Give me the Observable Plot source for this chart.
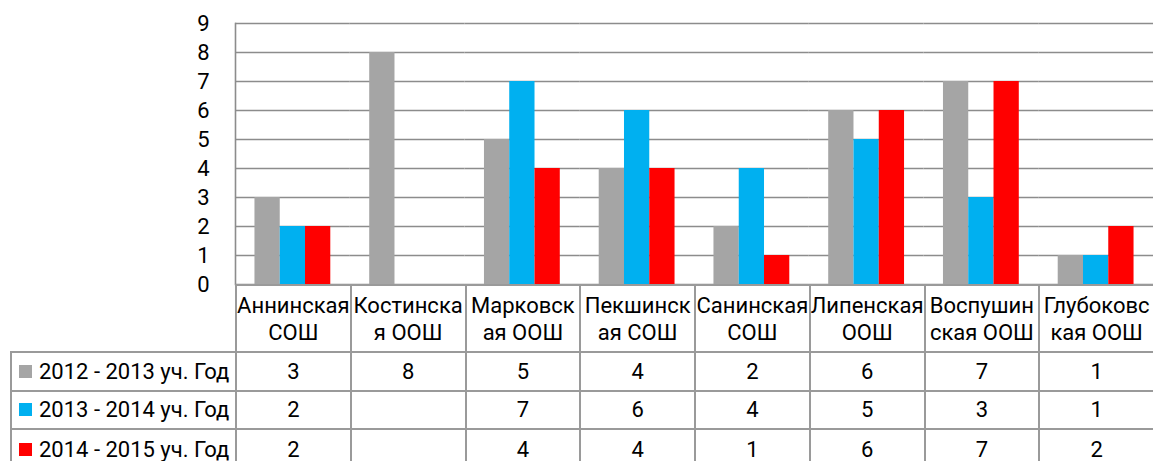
<!DOCTYPE html>
<html>
<head>
<meta charset="utf-8">
<script src="https://cdn.jsdelivr.net/npm/d3@7"></script>
<script src="https://cdn.jsdelivr.net/npm/@observablehq/plot@0.6"></script>
<style>
  html, body { margin: 0; padding: 0; background: #fff; }
  #wrap { position: relative; width: 1153px; height: 461px; overflow: hidden; font-family: Roboto, "Noto Sans", sans-serif; color: #000; }
  #wrap svg { position: absolute; left: 0; top: 0; overflow: visible; }
  #tbl { position: absolute; left: 10px; top: 284px; display: grid; }
  .cell { box-sizing: border-box; border-left: 2px solid #9a9a9a; border-top: 2px solid #9a9a9a; display: flex; align-items: center; justify-content: center; text-align: center; font-size: 22px; line-height: 27px; white-space: pre; }
  .blank { border: none; }
  .leg { justify-content: flex-start; padding-left: 7px; }
  .sw { display: inline-block; width: 13px; height: 13px; margin-right: 7px; }
</style>
</head>
<body>
<div id="wrap"></div>
<script>
const categories = ["Аннинская СОШ", "Костинская ООШ", "Марковская ООШ", "Пекшинская СОШ", "Санинская СОШ", "Липенская ООШ", "Воспушинская ООШ", "Глубоковская ООШ"];
const categoryLabels = ["Аннинская\nСОШ", "Костинска\nя ООШ", "Марковск\nая ООШ", "Пекшинск\nая СОШ", "Санинская\nСОШ", "Липенская\nООШ", "Воспушин\nская ООШ", "Глубоковс\nкая ООШ"];
const seriesNames = ["2012 - 2013 уч. Год", "2013 - 2014 уч. Год", "2014 - 2015 уч. Год"];
const seriesColors = ["#a5a5a5", "#00b0f0", "#ff0000"];
const values2012 = [3, 8, 5, 4, 2, 6, 7, 1];
const values2013 = [2, null, 7, 6, 4, 5, 3, 1];
const values2014 = [2, null, 4, 4, 1, 6, 7, 2];
const yTicks = [0, 1, 2, 3, 4, 5, 6, 7, 8, 9];

const seriesValues = [values2012, values2013, values2014];
const data = [];
categories.forEach((c, i) => {
  seriesNames.forEach((s, j) => {
    const v = seriesValues[j][i];
    if (v != null) data.push({cat: c, series: s, value: v});
  });
});

const chart = Plot.plot({
  width: 1153,
  height: 302,
  marginTop: 23,
  marginBottom: 18,
  marginLeft: 235,
  marginRight: 0,
  style: {fontFamily: "Roboto, 'Noto Sans', sans-serif", fontSize: "22px", color: "#000", background: "transparent"},
  fx: {domain: categories, padding: 0, round: false, axis: null},
  x: {domain: seriesNames, paddingInner: 0, paddingOuter: 0.77, round: false, axis: null},
  y: {domain: [0, 9], ticks: yTicks, tickSize: 0, tickPadding: 26, label: null, tickFormat: d => String(d)},
  color: {domain: seriesNames, range: seriesColors},
  marks: [
    Plot.ruleY(yTicks, {stroke: "#8c8c8c", strokeWidth: 1.6}),
    Plot.frame({anchor: "left", fx: () => categories[0], stroke: "#8c8c8c", strokeWidth: 1.6}),
    Plot.barY(data, {fx: "cat", x: "series", y: "value", fill: "series"})
  ]
});

const wrap = document.getElementById("wrap");
wrap.appendChild(chart);

// data table below the chart, aligned with the fx scale
const fx = chart.scale("fx");
const bw = fx.bandwidth;
const tbl = d3.select(wrap).append("div").attr("id", "tbl")
  .style("left", "10px")
  .style("grid-template-columns", `${fx.apply(categories[0]) - 10}px repeat(${categories.length}, ${bw}px)`)
  .style("grid-template-rows", "67px 38.5px 38.5px 40px");

tbl.append("div").attr("class", "cell blank");
categoryLabels.forEach(l => tbl.append("div").attr("class", "cell").text(l));
seriesNames.forEach((s, j) => {
  const leg = tbl.append("div").attr("class", "cell leg");
  leg.append("span").attr("class", "sw").style("background", seriesColors[j]);
  leg.append("span").text(s);
  seriesValues[j].forEach(v => tbl.append("div").attr("class", "cell").text(v == null ? "" : String(v)));
});
</script>
</body>
</html>
